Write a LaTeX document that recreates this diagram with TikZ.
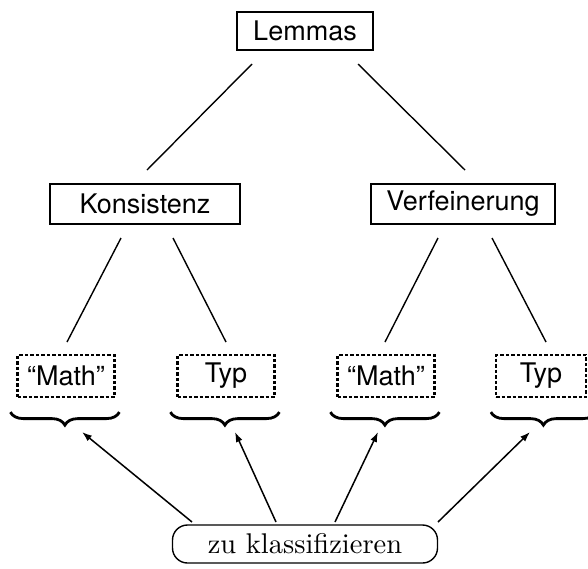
\documentclass[tikz,border=0pt]{standalone}
\usepackage{fontspec}
\setsansfont{TeX Gyre Heros}
\newfontfamily\lmten{lmroman10-regular.otf}
\usetikzlibrary{decorations.pathreplacing,arrows.meta}
\begin{document}
\begin{tikzpicture}[x=1pt,y=-1pt,
  every node/.style={inner sep=0pt, font=\sffamily\fontsize{27}{30}\selectfont},
  solidbox/.style={draw, line width=2.5pt, minimum height=38pt},
  dotbox/.style={draw, line width=2.2pt, dash pattern=on 3.5pt off 2pt, minimum width=97pt, minimum height=42pt},
  treeline/.style={line width=1.4pt},
  pointer/.style={line width=1.5pt, -{Latex[length=10pt,width=7pt]}},
  ubrace/.style={line width=2.8pt, decorate, decoration={brace, amplitude=13pt, mirror}},
]
\useasboundingbox (0,0) rectangle (588,568);

% upper tree levels
\node[solidbox, minimum width=136pt] (lem) at (305,31) {Lemmas};
\node[solidbox, minimum width=190pt, minimum height=40pt] (kon) at (145,204) {Konsistenz};
\node[solidbox, minimum width=184pt, minimum height=40pt] (ver) at (463,204) {Verfeinerung};

% leaves
\node[dotbox] (m1) at (66,376) {``Math''};
\node[dotbox] (t1) at (226,376) {Typ};
\node[dotbox] (m2) at (386,376) {``Math''};
\node[dotbox, minimum width=90pt] (t2) at (541,376) {Typ};

% tree edges
\draw[treeline] (252,64) -- (147,170);
\draw[treeline] (358,64) -- (465,170);
\draw[treeline] (121,238) -- (67,342);
\draw[treeline] (173,238) -- (226,342);
\draw[treeline] (438,238) -- (385,342);
\draw[treeline] (492,238) -- (546,342);

% braces below the leaves
\draw[ubrace] (m1.south west)++(-6,14) coordinate (b1a) -- ++(109,0) coordinate (b1b);
\draw[ubrace] (t1.south west)++(-6,14) coordinate (b2a) -- ++(109,0) coordinate (b2b);
\draw[ubrace] (m2.south west)++(-6,14) coordinate (b3a) -- ++(109,0) coordinate (b3b);
\draw[ubrace] (t2.south west)++(-4,14) coordinate (b4a) -- ++(105,0) coordinate (b4b);

% item to classify
\node[draw, line width=1.4pt, rounded corners=15pt, minimum width=265pt, minimum height=38pt,
      font=\lmten\fontsize{28.5}{32}\selectfont] (zk) at (305,544) {zu klassifizieren};

\coordinate (s1) at (192,522);
\coordinate (s2) at (276,522);
\coordinate (s3) at (335,522);
\coordinate (s4) at (438,522);
\coordinate (e1) at (82,432);
\coordinate (e2) at (235,432);
\coordinate (e3) at (378,432);
\coordinate (e4) at (530,432);
\draw[pointer] (s1) -- (e1);
\draw[pointer] (s2) -- (e2);
\draw[pointer] (s3) -- (e3);
\draw[pointer] (s4) -- (e4);
\end{tikzpicture}
\end{document}
